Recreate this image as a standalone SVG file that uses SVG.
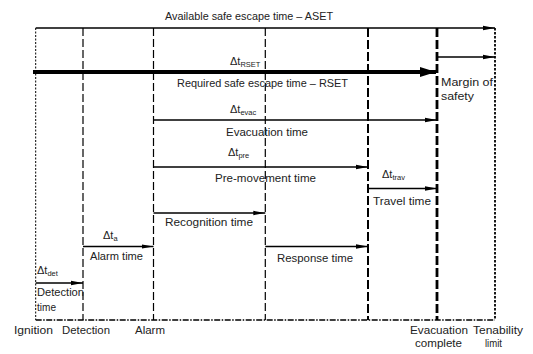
<svg xmlns="http://www.w3.org/2000/svg" width="533" height="354" viewBox="0 0 533 354">
<style>
text{font-family:"Liberation Sans Narrow","Liberation Sans",Arial,sans-serif;font-size:11px;fill:#222}
.sub{font-size:7.5px}
.ar{stroke:#000;stroke-width:1.5;fill:none}
.thin{stroke:#000;stroke-width:1.2;stroke-dasharray:8 3;fill:none}
.med{stroke:#000;stroke-width:2;stroke-dasharray:9 3;fill:none}
.thick{stroke:#000;stroke-width:2.8;stroke-dasharray:9 3;fill:none}
</style>
<defs>
<marker id="ah" markerUnits="userSpaceOnUse" markerWidth="13" markerHeight="6" refX="12" refY="3" orient="auto"><path d="M0,0.8 L12,3 L0,5.2 z" fill="#000"/></marker>
<marker id="ahb" markerUnits="userSpaceOnUse" markerWidth="17" markerHeight="11" refX="16" refY="5.5" orient="auto"><path d="M0,0.5 L16,5.5 L0,10.5 z" fill="#000"/></marker>
</defs>
<rect width="533" height="354" fill="#fff"/>
<g id="ignition">
<line x1="35.7" y1="28" x2="35.7" y2="320" stroke="#000" stroke-width="1" stroke-dasharray="2 1.5"/>
<text x="14" y="334" textLength="39" lengthAdjust="spacingAndGlyphs">Ignition</text>
</g>
<g id="detection">
<line class="thin" x1="83" y1="28" x2="83" y2="320"/>
<text x="62" y="334" textLength="48" lengthAdjust="spacingAndGlyphs">Detection</text>
</g>
<g id="alarm">
<line class="thin" x1="153.5" y1="28" x2="153.5" y2="320"/>
<text x="135" y="334" textLength="30" lengthAdjust="spacingAndGlyphs">Alarm</text>
</g>
<g id="recognition-end">
<line class="thin" x1="265.3" y1="28" x2="265.3" y2="320"/>
</g>
<g id="response-end">
<line class="med" x1="368" y1="28" x2="368" y2="320"/>
</g>
<g id="evacuation-complete">
<line class="thick" x1="437" y1="28" x2="437" y2="320"/>
<text x="410" y="334" textLength="58" lengthAdjust="spacingAndGlyphs">Evacuation</text>
<text x="415" y="347" textLength="47" lengthAdjust="spacingAndGlyphs">complete</text>
</g>
<g id="tenability-limit">
<line x1="495" y1="28" x2="495" y2="320" stroke="#000" stroke-width="1.8" stroke-dasharray="2.5 1.5"/>
<text x="473" y="334" textLength="50" lengthAdjust="spacingAndGlyphs">Tenability</text>
<text x="485" y="347" textLength="17" lengthAdjust="spacingAndGlyphs">limit</text>
</g>
<g id="baseline">
<line x1="35.7" y1="320" x2="495" y2="320" stroke="#000" stroke-width="1.5" stroke-dasharray="6 1.5 1.5 1.5"/>
</g>
<g id="connectors">
<line class="ar" x1="35.7" y1="28" x2="495" y2="28" marker-end="url(#ah)"/>
<line x1="33" y1="72" x2="436" y2="72" stroke="#000" stroke-width="4" marker-end="url(#ahb)"/>
<line class="ar" x1="437" y1="57" x2="495" y2="57" marker-end="url(#ah)"/>
<line class="ar" x1="153.5" y1="120" x2="437" y2="120" marker-end="url(#ah)"/>
<line class="ar" x1="153.5" y1="167" x2="368" y2="167" marker-end="url(#ah)"/>
<line class="ar" x1="368" y1="188.5" x2="437" y2="188.5" marker-end="url(#ah)"/>
<line class="ar" x1="153.5" y1="213" x2="265.3" y2="213" marker-end="url(#ah)"/>
<line class="ar" x1="83" y1="246.5" x2="153.5" y2="246.5" marker-end="url(#ah)"/>
<line class="ar" x1="265.3" y1="246.5" x2="368" y2="246.5" marker-end="url(#ah)"/>
<line class="ar" x1="35.7" y1="283" x2="83" y2="283" marker-end="url(#ah)"/>
</g>
<g id="aset">
<text x="165" y="20" textLength="168" lengthAdjust="spacingAndGlyphs">Available safe escape time – ASET</text>
</g>
<g id="rset">
<text x="230" y="65">Δt<tspan class="sub" dy="2">RSET</tspan></text>
<text x="177" y="87" textLength="171" lengthAdjust="spacingAndGlyphs">Required safe escape time – RSET</text>
</g>
<g id="margin">
<text x="441" y="86" textLength="52" lengthAdjust="spacingAndGlyphs">Margin of</text>
<text x="441" y="100" textLength="33" lengthAdjust="spacingAndGlyphs">safety</text>
</g>
<g id="evacuation">
<text x="230" y="113">Δt<tspan class="sub" dy="2">evac</tspan></text>
<text x="226" y="136" textLength="82" lengthAdjust="spacingAndGlyphs">Evacuation time</text>
</g>
<g id="pre-movement">
<text x="228" y="156">Δt<tspan class="sub" dy="2">pre</tspan></text>
<text x="215" y="182" textLength="101" lengthAdjust="spacingAndGlyphs">Pre-movement time</text>
</g>
<g id="travel">
<text x="382" y="178">Δt<tspan class="sub" dy="2">trav</tspan></text>
<text x="373" y="205" textLength="58" lengthAdjust="spacingAndGlyphs">Travel time</text>
</g>
<g id="recognition">
<text x="165" y="226" textLength="88" lengthAdjust="spacingAndGlyphs">Recognition time</text>
</g>
<g id="alarm-time">
<text x="103" y="239">Δt<tspan class="sub" dy="2">a</tspan></text>
<text x="90" y="260" textLength="53" lengthAdjust="spacingAndGlyphs">Alarm time</text>
</g>
<g id="response">
<text x="277" y="262" textLength="76" lengthAdjust="spacingAndGlyphs">Response time</text>
</g>
<g id="detection-time">
<text x="37" y="274">Δt<tspan class="sub" dy="2">det</tspan></text>
<text x="37" y="296" textLength="47" lengthAdjust="spacingAndGlyphs">Detection</text>
<text x="37" y="311" textLength="19" lengthAdjust="spacingAndGlyphs">time</text>
</g>
</svg>
